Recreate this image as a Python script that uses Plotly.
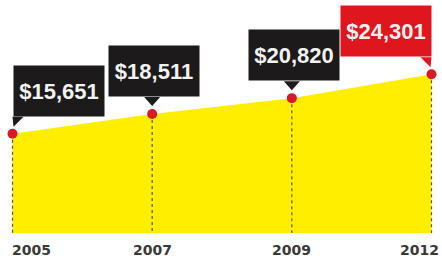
import plotly.graph_objects as go

years = ["2005", "2007", "2009", "2012"]
values = [15651, 18511, 20820, 24301]
labels = ["$15,651", "$18,511", "$20,820", "$24,301"]

# styling (not data)
box_colors = ["#1c1a1a", "#1c1a1a", "#1c1a1a", "#e0161f"]
box_anchor = ["left", "center", "center", "right"]
box_xshift = [0, 2, 2, 0]
year_anchor = ["left", "center", "center", "right"]
year_xshift = [-3, 0, 0, 9]

Y_MIN, Y_MAX = 1214, 35085
YELLOW = "#FFEE00"
RED_DOT = "#d8192a"
GAP = 17

fig = go.Figure()

# yellow area
fig.add_trace(go.Scatter(
    x=years, y=values, mode="lines", fill="tozeroy",
    fillcolor=YELLOW, line=dict(color=YELLOW, width=0),
    hoverinfo="skip", showlegend=False))

# dotted drop lines
for yr, v in zip(years, values):
    fig.add_trace(go.Scatter(
        x=[yr, yr], y=[v, Y_MIN], mode="lines",
        line=dict(color="#5a5a3a", width=1.2, dash="dot"),
        hoverinfo="skip", showlegend=False))

# red dots
fig.add_trace(go.Scatter(
    x=years, y=values, mode="markers",
    marker=dict(color=RED_DOT, size=10, line=dict(width=0)),
    hoverinfo="skip", showlegend=False))

for i, (yr, v, lab) in enumerate(zip(years, values, labels)):
    # i = category position of this year on the category axis
    fig.add_annotation(
        x=i, y=v, xref="x", yref="y", text=lab, showarrow=False,
        xanchor=box_anchor[i], yanchor="bottom", xshift=box_xshift[i], yshift=GAP,
        bgcolor=box_colors[i], width=90, height=50, borderpad=0,
        font=dict(family="Liberation Sans", size=22, weight=700, color="#f2f2f2"),
        align="center", valign="middle")
    if box_anchor[i] == "left":
        path = f"M 0,{GAP} L 11,{GAP} L 1,{GAP-10} Z"
    elif box_anchor[i] == "right":
        path = f"M 0,{GAP} L -11,{GAP} L -1,{GAP-10} Z"
    else:
        path = f"M -8,{GAP} L 8,{GAP} L 0,{GAP-9} Z"
    fig.add_shape(type="path", xref="x", yref="y",
                  xsizemode="pixel", ysizemode="pixel",
                  xanchor=i, yanchor=v, path=path,
                  fillcolor=box_colors[i], line=dict(width=0))
    fig.add_annotation(
        x=i, y=0, xref="x", yref="paper", text=f"<b>{yr}</b>", showarrow=False,
        xanchor=year_anchor[i], yanchor="middle", yshift=-17, xshift=year_xshift[i],
        font=dict(family="DejaVu Sans", size=14, color="#3a3a3a"))

fig.update_layout(
    width=442, height=262,
    margin=dict(l=0, r=0, t=0, b=29),
    paper_bgcolor="white", plot_bgcolor="white",
    xaxis=dict(type="category", range=[-0.0895, 3.0752], visible=False, fixedrange=True),
    yaxis=dict(range=[Y_MIN, Y_MAX], visible=False, fixedrange=True),
    showlegend=False,
)

fig.write_html("out.html", config={"displayModeBar": False},
               post_script="document.body.style.margin='0';")
